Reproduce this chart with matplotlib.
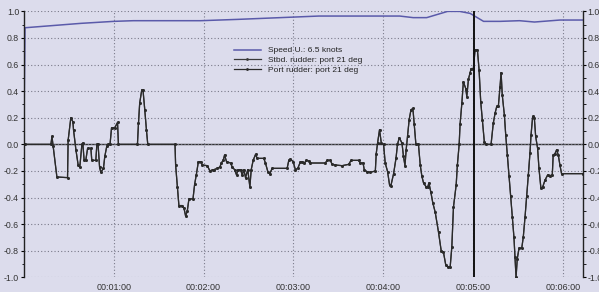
import matplotlib
matplotlib.use("Agg")
import matplotlib.pyplot as plt
from matplotlib.ticker import MultipleLocator, FuncFormatter

plt.rcParams['font.family'] = ['Liberation Sans', 'DejaVu Sans']
plt.rcParams['axes.unicode_minus'] = False

# ---- data (time in seconds) ----
speed_t = [0.0, 0.7, 38, 60, 73, 118, 143, 197, 251, 260, 269, 283, 291, 298, 307, 318, 331, 341, 358, 373.3]
speed_v = [0.15, 0.877, 0.91, 0.925, 0.93, 0.93, 0.94, 0.965, 0.965, 0.953, 0.953, 1.0, 1.0, 0.985, 0.925, 0.925, 0.93, 0.92, 0.935, 0.935]

rud_t = [0.7, 18.0, 18.7, 19.5, 22.0, 29.1, 29.5, 31.3, 32.7, 33.1, 34.7, 36.2, 37.3, 38.7, 39.3,
         40.2, 41.3, 42.5, 44.7, 45.3, 48.0, 48.7, 49.5, 50.5, 51.3, 53.1, 54.0, 55.3, 56.2, 57.5,
         58.5, 60.7, 62.5, 63.1, 75.8, 76.5, 77.3, 78.7, 79.5, 80.7, 81.8, 82.7, 100.9, 101.3, 102.5,
         103.5, 105.8, 106.9, 108.0, 109.1, 110.2, 112.9, 114.0, 115.1, 116.5, 118.0, 119.1, 122.5,
         124.2, 126.0, 126.9, 129.1, 130.9, 131.8, 133.1, 134.0, 135.3, 138.0, 139.1, 140.7, 142.0,
         142.9, 144.7, 145.8, 146.9, 148.0, 149.5, 150.9, 151.8, 153.1, 154.7, 155.8, 160.2, 161.3,
         162.9, 164.2, 165.8, 175.8, 176.9, 178.0, 179.8, 181.3, 182.9, 184.7, 186.0, 187.3, 188.7,
         190.2, 191.3, 201.3, 202.5, 204.7, 205.8, 208.0, 212.5, 216.9, 218.5, 223.5, 224.7, 226.5,
         227.3, 229.1, 231.3, 234.7, 235.3, 236.2, 237.5, 238.7, 240.2, 241.3, 242.9, 244.2, 245.1,
         246.9, 248.5, 249.5, 250.7, 252.5, 253.5, 254.5, 255.3, 256.2, 257.3, 258.5, 259.8, 260.7,
         261.8, 263.5, 264.7, 265.8, 266.9, 268.7, 269.7, 270.5, 271.8, 273.1, 274.7, 276.9, 278.7,
         280.2, 281.8, 283.5, 284.7, 285.8, 286.9, 288.7, 289.5, 290.7, 291.3, 292.5, 293.5, 295.1,
         295.8, 296.9, 298.0, 298.7, 300.2, 301.3, 302.9, 304.0, 305.1, 306.2, 307.5, 308.5, 312.0,
         313.5, 314.7, 315.8, 316.9, 318.0, 318.7, 319.5, 320.9, 321.8, 322.9, 324.0, 325.1, 326.2,
         327.3, 328.0, 328.7, 329.5, 330.7, 332.5, 333.5, 334.7, 335.8, 336.9, 338.0, 338.7, 339.8,
         340.9, 341.8, 343.1, 344.0, 345.3, 346.5, 348.0, 349.8, 351.3, 352.9, 353.5, 354.7, 355.8,
         356.9, 358.0, 359.1, 373.3]
rud_v = [0, 0, 0.06, -0.015, -0.245, -0.25, 0.03, 0.2, 0.17, 0.11, -0.04, -0.155, -0.17, 0, 0.01,
         -0.12, -0.12, -0.03, -0.03, -0.12, -0.12, 0, 0, -0.17, -0.21, -0.18, -0.09, -0.015, 0, 0,
         0.125, 0.125, 0.165, 0, 0, 0.16, 0.31, 0.41, 0.41, 0.26, 0.11, 0, 0, -0.155, -0.32,
         -0.46, -0.46, -0.48, -0.54, -0.5, -0.41, -0.41, -0.30, -0.23, -0.13, -0.13, -0.155, -0.16,
         -0.2, -0.19, -0.19, -0.18, -0.17, -0.14, -0.12, -0.08, -0.13, -0.14, -0.17, -0.19, -0.23,
         -0.19, -0.19, -0.23, -0.19, -0.25, -0.19, -0.32, -0.19, -0.12, -0.075, -0.105, -0.105, -0.14,
         -0.205, -0.22, -0.18, -0.18, -0.12, -0.11, -0.13, -0.19, -0.18, -0.13, -0.13, -0.14, -0.12,
         -0.125, -0.14, -0.14, -0.12, -0.12, -0.15, -0.155, -0.16, -0.15, -0.12, -0.12, -0.14, -0.14,
         -0.19, -0.205, -0.21, -0.2, -0.07, 0.01, 0.11, 0.01, 0, -0.14, -0.205, -0.305, -0.31,
         -0.22, -0.105, 0, 0.05, 0.01, -0.09, -0.16, -0.04, 0.06, 0.185, 0.26, 0.27, 0.15,
         0, 0, -0.155, -0.24, -0.29, -0.32, -0.32, -0.29, -0.36, -0.44, -0.51, -0.66, -0.8,
         -0.81, -0.91, -0.92, -0.92, -0.77, -0.47, -0.305, -0.155, 0, 0.15, 0.31, 0.47, 0.42,
         0.36, 0.49, 0.54, 0.57, 0.57, 0.71, 0.71, 0.56, 0.32, 0.185, 0.02, 0, 0,
         0.16, 0.235, 0.285, 0.29, 0.435, 0.54, 0.37, 0.22, 0.07, -0.08, -0.24, -0.39, -0.545,
         -0.7, -0.85, -1.0, -0.86, -0.78, -0.78, -0.7, -0.545, -0.39, -0.23, -0.065, 0.07, 0.21,
         0.2, 0.06, -0.03, -0.18, -0.33, -0.32, -0.27, -0.23, -0.235, -0.23, -0.08, -0.07, -0.04,
         -0.08, -0.155, -0.22, -0.22]

cursor_t = 300.7
x_ticks = [60, 120, 180, 240, 300, 360]
labels = ["Speed U.: 6.5 knots", "Stbd. rudder: port 21 deg", "Port rudder: port 21 deg"]

bg = '#dcdcec'
fig = plt.figure(figsize=(5.99, 2.92), dpi=100, facecolor=bg)
ax = fig.add_axes([0.040, 0.050, 0.933, 0.911], facecolor=bg)

ax.plot(speed_t, speed_v, color='#5a5aaa', lw=1.1, label=labels[0])
ax.plot(rud_t, rud_v, color='#3a3a3a', lw=0.9, marker='.', ms=2.0, label=labels[1])
ax.plot(rud_t, rud_v, color='#2a2a2a', lw=0.9, marker='.', ms=2.0, label=labels[2])

ax.axhline(0, color='#333333', lw=1.0, zorder=1)
ax.axvline(cursor_t, color='#111111', lw=1.4, zorder=3)

ax.set_xlim(0, 373.3)
ax.set_ylim(-1, 1)
ax.set_xticks(x_ticks)
ax.xaxis.set_major_formatter(FuncFormatter(lambda v, p: "%02d:%02d:%02d" % (v // 3600, (v % 3600) // 60, v % 60)))
ax.yaxis.set_major_locator(MultipleLocator(0.2))
ax.yaxis.set_minor_locator(MultipleLocator(0.1))
ax.yaxis.set_major_formatter(FuncFormatter(lambda v, p: "%.1f" % v))

ax.grid(True, which='major', linestyle=(0, (1, 2)), color='#7a7a8a', lw=0.8)
for s in ['top', 'bottom']:
    ax.spines[s].set_visible(False)
for s in ['left', 'right']:
    ax.spines[s].set_color('#222222')
    ax.spines[s].set_linewidth(1.0)

ax.tick_params(axis='x', length=0, pad=4, labelsize=6.5, labelcolor='#333333')
ax.tick_params(axis='y', which='major', direction='out', length=2.5, pad=1, labelsize=6.3,
               labelcolor='#333333', left=True, right=True, labelleft=True, labelright=True)
ax.tick_params(axis='y', which='minor', direction='out', length=1.8, left=True, right=True)

leg = ax.legend(loc='upper left', bbox_to_anchor=(0.37, 0.88), frameon=False,
                fontsize=6, handlelength=3.2, labelspacing=0.25, handletextpad=0.9,
                borderaxespad=0)
for t in leg.get_texts():
    t.set_color('#222222')

fig.savefig('out.png', dpi=100, facecolor=bg)
